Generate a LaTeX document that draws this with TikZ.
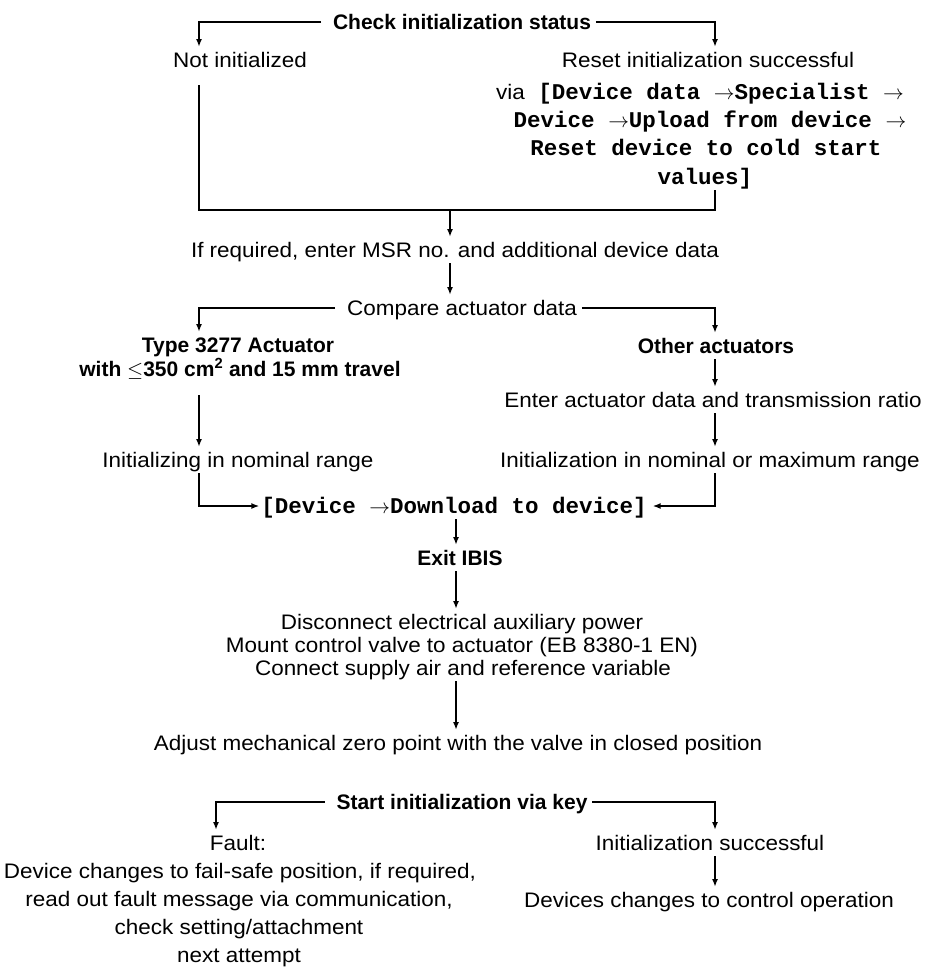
\documentclass[tikz,border=0pt]{standalone}
\usepackage{fontspec}
\setmainfont{Liberation Sans}[FakeStretch=1.07]
\newfontfamily\bfam{Liberation Sans}
\setmonofont{Liberation Mono}
\usetikzlibrary{arrows.meta,calc}
\begin{document}
\begin{tikzpicture}[x=1pt,y=-1pt,
  txt/.style={inner sep=0pt, outer sep=2pt, text height=18pt, text depth=4pt, font=\fontsize{21}{25}\selectfont},
  btxt/.style={txt, font=\fontsize{21}{25}\selectfont\bfam\bfseries},
  mono/.style={txt, font=\fontsize{22.5}{30}\selectfont\ttfamily\bfseries},
  ln/.style={line width=2.5pt},
  arr/.style={line width=2.5pt, -{Latex[length=8pt,width=6pt]}},
]
\fill[white] (0,0) rectangle (926,970);
\useasboundingbox (0,0) rectangle (926,970);
% guide coordinates
\coordinate (xL) at (199,0);
\coordinate (xR) at (715,0);
\coordinate (xF) at (216,0);
\coordinate (xC) at (450,0);
\coordinate (mx) at (456,0);
\coordinate (mc) at (450,210);
% top
\node[btxt] (t1) at (462,22) {Check initialization status};
\node[txt] (ni) at (240,60) {Not initialized};
\node[txt] (rs) at (708,60) {Reset initialization successful};
\node[mono] (m1) at (700,92) {{\rmfamily\mdseries\fontsize{21}{25}\selectfont via} [Device data $\rightarrow$Specialist $\rightarrow$};
\node[mono] (m2) at (710,120) {Device $\rightarrow$Upload from device $\rightarrow$};
\node[mono] (m3) at (706,148) {Reset device to cold start};
\node[mono] (m4) at (705,177) {values]};
\draw[arr] ([xshift=-10pt]t1.west) -| (xL |- ni.north);
\draw[arr] ([xshift=3pt]t1.east) -| (xR |- rs.north);
\draw[ln] ($(xL |- ni.south)+(0,12)$) -- (xL |- mc) -- (xR |- mc) -- (xR |- m4.south);
% middle
\node[txt] (ifr) at (455,250) {If required, enter MSR no. and additional device data};
\node[txt] (cmp) at (462,308) {Compare actuator data};
\draw[arr] (mc) -- (xC |- ifr.north);
\draw[arr] (xC |- ifr.south) -- (xC |- cmp.north);
\node[btxt] (ty1) at (238,345) {Type 3277 Actuator};
\node[btxt] (ty2) at (240,369) {with $\leq$350 cm\textsuperscript{2} and 15 mm travel};
\node[btxt] (ot) at (716,346) {Other actuators};
\draw[arr] ([xshift=-10pt]cmp.west) -| (xL |- ty1.north);
\draw[arr] ([xshift=3pt]cmp.east) -| (xR |- ot.north);
\node[txt] (en) at (713,400) {Enter actuator data and transmission ratio};
\node[txt] (in1) at (238,460) {Initializing in nominal range};
\node[txt] (in2) at (710,460) {Initialization in nominal or maximum range};
\draw[arr] ($(xL |- ty2.south)+(0,13)$) -- (xL |- in1.north);
\draw[arr] (xR |- ot.south) -- (xR |- en.north);
\draw[arr] (xR |- en.south) -- (xR |- in2.north);
\node[mono] (dl) at (454,506) {[Device $\rightarrow$Download to device]};
\draw[arr] (xL |- in1.south) |- (dl.west);
\draw[arr] (xR |- in2.south) |- ([xshift=4pt]dl.east);
% lower
\node[btxt] (ex) at (460,558) {Exit IBIS};
\node[txt] (d1) at (462,622) {Disconnect electrical auxiliary power};
\node[txt] (d2) at (462,645) {Mount control valve to actuator (EB 8380-1 EN)};
\node[txt] (d3) at (463,668) {Connect supply air and reference variable};
\node[txt] (adj) at (458,743) {Adjust mechanical zero point with the valve in closed position};
\draw[arr] (mx |- dl.south) -- (mx |- ex.north);
\draw[arr] (mx |- ex.south) -- (mx |- d1.north);
\draw[arr] (mx |- d3.south) -- (mx |- adj.north);
% bottom
\node[btxt] (st) at (462,802) {Start initialization via key};
\node[txt] (f1) at (238,843) {Fault:};
\node[txt] (f2) at (240,871) {Device changes to fail-safe position, if required,};
\node[txt] (f3) at (239,899) {read out fault message via communication,};
\node[txt] (f4) at (239,927) {check setting/attachment};
\node[txt] (f5) at (239,955) {next attempt};
\node[txt] (s1) at (710,843) {Initialization successful};
\node[txt] (s2) at (709,900) {Devices changes to control operation};
\draw[arr] ([xshift=-10pt]st.west) -| (xF |- f1.north);
\draw[arr] ([xshift=3pt]st.east) -| (xR |- s1.north);
\draw[arr] (xR |- s1.south) -- (xR |- s2.north);
\end{tikzpicture}
\end{document}
